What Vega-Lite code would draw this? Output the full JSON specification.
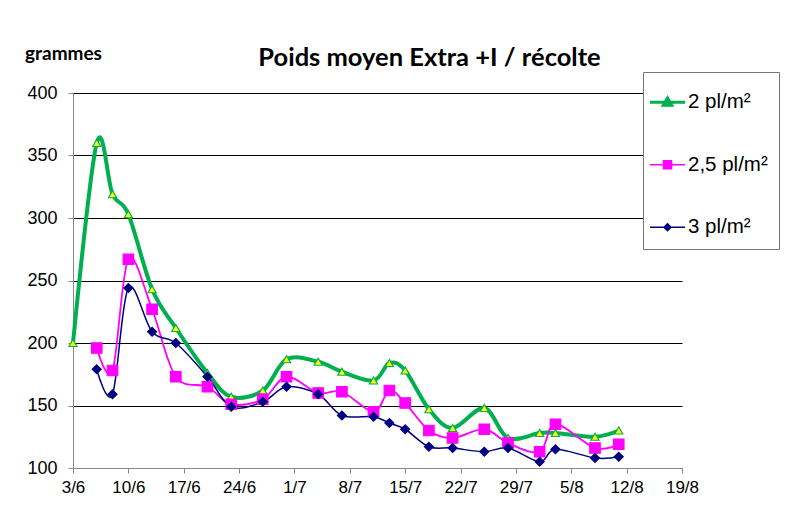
{
  "$schema": "https://vega.github.io/schema/vega-lite/v6.json",
  "width": 609,
  "height": 375,
  "autosize": {"type": "none"},
  "padding": {"left": 73, "top": 93, "right": 111, "bottom": 48},
  "background": "white",
  "config": {"view": {"stroke": null}, "font": "Liberation Sans"},
  "title": {"text": "Poids moyen Extra +I / récolte", "font": "Lato", "fontSize": 25.5, "fontWeight": "bold", "color": "black", "anchor": "middle", "frame": "group", "dx": 52, "offset": 28, "dy": 55},
  "data": {"values": [
    {"date": "2013/06/03", "series": "2 pl/m²", "value": 200},
    {"date": "2013/06/06", "series": "2 pl/m²", "value": 360},
    {"date": "2013/06/08", "series": "2 pl/m²", "value": 319},
    {"date": "2013/06/10", "series": "2 pl/m²", "value": 303},
    {"date": "2013/06/13", "series": "2 pl/m²", "value": 243},
    {"date": "2013/06/16", "series": "2 pl/m²", "value": 212},
    {"date": "2013/06/20", "series": "2 pl/m²", "value": 176},
    {"date": "2013/06/23", "series": "2 pl/m²", "value": 157},
    {"date": "2013/06/27", "series": "2 pl/m²", "value": 162},
    {"date": "2013/06/30", "series": "2 pl/m²", "value": 187},
    {"date": "2013/07/04", "series": "2 pl/m²", "value": 185},
    {"date": "2013/07/07", "series": "2 pl/m²", "value": 177},
    {"date": "2013/07/11", "series": "2 pl/m²", "value": 170},
    {"date": "2013/07/13", "series": "2 pl/m²", "value": 184},
    {"date": "2013/07/15", "series": "2 pl/m²", "value": 178},
    {"date": "2013/07/18", "series": "2 pl/m²", "value": 147},
    {"date": "2013/07/21", "series": "2 pl/m²", "value": 132},
    {"date": "2013/07/25", "series": "2 pl/m²", "value": 148},
    {"date": "2013/07/28", "series": "2 pl/m²", "value": 124},
    {"date": "2013/08/01", "series": "2 pl/m²", "value": 128},
    {"date": "2013/08/03", "series": "2 pl/m²", "value": 128},
    {"date": "2013/08/08", "series": "2 pl/m²", "value": 125},
    {"date": "2013/08/11", "series": "2 pl/m²", "value": 130},
    {"date": "2013/06/06", "series": "2,5 pl/m²", "value": 196},
    {"date": "2013/06/08", "series": "2,5 pl/m²", "value": 178},
    {"date": "2013/06/10", "series": "2,5 pl/m²", "value": 267},
    {"date": "2013/06/13", "series": "2,5 pl/m²", "value": 227},
    {"date": "2013/06/16", "series": "2,5 pl/m²", "value": 173},
    {"date": "2013/06/20", "series": "2,5 pl/m²", "value": 165},
    {"date": "2013/06/23", "series": "2,5 pl/m²", "value": 151},
    {"date": "2013/06/27", "series": "2,5 pl/m²", "value": 155},
    {"date": "2013/06/30", "series": "2,5 pl/m²", "value": 173},
    {"date": "2013/07/04", "series": "2,5 pl/m²", "value": 160},
    {"date": "2013/07/07", "series": "2,5 pl/m²", "value": 161},
    {"date": "2013/07/11", "series": "2,5 pl/m²", "value": 145},
    {"date": "2013/07/13", "series": "2,5 pl/m²", "value": 162},
    {"date": "2013/07/15", "series": "2,5 pl/m²", "value": 152},
    {"date": "2013/07/18", "series": "2,5 pl/m²", "value": 130},
    {"date": "2013/07/21", "series": "2,5 pl/m²", "value": 124},
    {"date": "2013/07/25", "series": "2,5 pl/m²", "value": 131},
    {"date": "2013/07/28", "series": "2,5 pl/m²", "value": 120},
    {"date": "2013/08/01", "series": "2,5 pl/m²", "value": 113},
    {"date": "2013/08/03", "series": "2,5 pl/m²", "value": 135},
    {"date": "2013/08/08", "series": "2,5 pl/m²", "value": 116},
    {"date": "2013/08/11", "series": "2,5 pl/m²", "value": 119},
    {"date": "2013/06/06", "series": "3 pl/m²", "value": 179},
    {"date": "2013/06/08", "series": "3 pl/m²", "value": 159},
    {"date": "2013/06/10", "series": "3 pl/m²", "value": 244},
    {"date": "2013/06/13", "series": "3 pl/m²", "value": 209},
    {"date": "2013/06/16", "series": "3 pl/m²", "value": 200},
    {"date": "2013/06/20", "series": "3 pl/m²", "value": 173},
    {"date": "2013/06/23", "series": "3 pl/m²", "value": 149},
    {"date": "2013/06/27", "series": "3 pl/m²", "value": 153},
    {"date": "2013/06/30", "series": "3 pl/m²", "value": 165},
    {"date": "2013/07/04", "series": "3 pl/m²", "value": 159},
    {"date": "2013/07/07", "series": "3 pl/m²", "value": 142},
    {"date": "2013/07/11", "series": "3 pl/m²", "value": 141},
    {"date": "2013/07/13", "series": "3 pl/m²", "value": 136},
    {"date": "2013/07/15", "series": "3 pl/m²", "value": 131},
    {"date": "2013/07/18", "series": "3 pl/m²", "value": 117},
    {"date": "2013/07/21", "series": "3 pl/m²", "value": 116},
    {"date": "2013/07/25", "series": "3 pl/m²", "value": 113},
    {"date": "2013/07/28", "series": "3 pl/m²", "value": 116},
    {"date": "2013/08/01", "series": "3 pl/m²", "value": 105},
    {"date": "2013/08/03", "series": "3 pl/m²", "value": 115},
    {"date": "2013/08/08", "series": "3 pl/m²", "value": 108},
    {"date": "2013/08/11", "series": "3 pl/m²", "value": 109}
  ]},
  "encoding": {
    "x": {
      "field": "date", "type": "temporal",
      "scale": {"domain": [{"year": 2013, "month": 6, "date": 3}, {"year": 2013, "month": 8, "date": 19}]},
      "axis": {
        "title": null,
        "values": [
          {"year": 2013, "month": 6, "date": 3}, {"year": 2013, "month": 6, "date": 10},
          {"year": 2013, "month": 6, "date": 17}, {"year": 2013, "month": 6, "date": 24},
          {"year": 2013, "month": 7, "date": 1}, {"year": 2013, "month": 7, "date": 8},
          {"year": 2013, "month": 7, "date": 15}, {"year": 2013, "month": 7, "date": 22},
          {"year": 2013, "month": 7, "date": 29}, {"year": 2013, "month": 8, "date": 5},
          {"year": 2013, "month": 8, "date": 12}, {"year": 2013, "month": 8, "date": 19}
        ],
        "format": "%-d/%-m",
        "grid": false,
        "domainColor": "#868686",
        "tickColor": "#868686",
        "tickSize": 5,
        "labelFont": "Liberation Sans",
        "labelFontSize": 17,
        "labelColor": "black",
        "labelPadding": 6,
        "labelFlush": false,
        "labelOverlap": false
      }
    },
    "y": {
      "field": "value", "type": "quantitative",
      "scale": {"domain": [100, 400], "nice": false, "zero": false},
      "axis": {
        "values": [100, 150, 200, 250, 300, 350, 400],
        "title": "grammes",
        "titleAngle": 0,
        "titleX": -10,
        "titleY": -40,
        "titleAlign": "center",
        "titleBaseline": "middle",
        "titleFont": "Lato",
        "titleFontWeight": "bold",
        "titleFontSize": 19,
        "titleColor": "black",
        "grid": true,
        "gridColor": "#000000",
        "gridWidth": 1,
        "domainColor": "#868686",
        "tickColor": "#868686",
        "tickSize": 5,
        "labelFont": "Liberation Sans",
        "labelFontSize": 18,
        "labelColor": "black",
        "labelPadding": 11
      }
    }
  },
  "layer": [
    {
      "mark": {"type": "line", "interpolate": "cardinal"},
      "encoding": {
        "color": {
          "field": "series", "type": "nominal",
          "scale": {"domain": ["2 pl/m²", "2,5 pl/m²", "3 pl/m²"], "range": ["#00B050", "#FF00FF", "#000080"]},
          "legend": {
            "title": " ",
            "titleFontSize": 8,
            "titlePadding": 1,
            "orient": "none",
            "legendX": 570,
            "legendY": -21,
            "fillColor": "white",
            "strokeColor": "#777777",
            "padding": 11,
            "labelFont": "Liberation Sans",
            "labelFontSize": 20.5,
            "labelColor": "black",
            "labelOffset": 13.5,
            "rowPadding": 41.5,
            "encode": {
              "symbols": {
                "update": {
                  "shape": {"signal": "datum.value === '2 pl/m²' ? 'M-0.814,0H1.186M-0.054,0.17L0.186,-0.24L0.426,0.17Z' : datum.value === '2,5 pl/m²' ? 'M-0.814,0H1.186M-0.044,-0.23H0.416V0.23H-0.044Z' : 'M-0.814,0H1.186M0.186,-0.2L0.386,0L0.186,0.2L-0.014,0Z'"},
                  "fill": {"signal": "datum.value === '2 pl/m²' ? '#FFFF00' : datum.value === '2,5 pl/m²' ? '#FF00FF' : '#000080'"},
                  "strokeWidth": {"signal": "datum.value === '2 pl/m²' ? 3 : 1.5"},
                  "size": {"value": 1225},
                  "opacity": {"value": 1}
                }
              }
            }
          }
        },
        "strokeWidth": {
          "field": "series", "type": "nominal",
          "scale": {"type": "ordinal", "domain": ["3 pl/m²", "2,5 pl/m²", "2 pl/m²"], "range": [1.5, 1.8, 4]},
          "legend": null
        }
      }
    },
    {
      "mark": {"type": "point", "filled": true, "opacity": 1, "strokeWidth": 1.2},
      "encoding": {
        "shape": {
          "field": "series", "type": "nominal",
          "scale": {"domain": ["3 pl/m²", "2,5 pl/m²", "2 pl/m²"], "range": ["diamond", "square", "triangle-up"]},
          "legend": null
        },
        "fill": {
          "field": "series", "type": "nominal",
          "scale": {"domain": ["3 pl/m²", "2,5 pl/m²", "2 pl/m²"], "range": ["#000080", "#FF00FF", "#FFFF00"]},
          "legend": null
        },
        "stroke": {
          "field": "series", "type": "nominal",
          "scale": {"domain": ["3 pl/m²", "2,5 pl/m²", "2 pl/m²"], "range": ["#000080", "#FF00FF", "#00B050"]},
          "legend": null
        },
        "size": {
          "field": "series", "type": "nominal",
          "scale": {"type": "ordinal", "domain": ["3 pl/m²", "2,5 pl/m²", "2 pl/m²"], "range": [80, 110, 65]},
          "legend": null
        }
      }
    }
  ]
}
